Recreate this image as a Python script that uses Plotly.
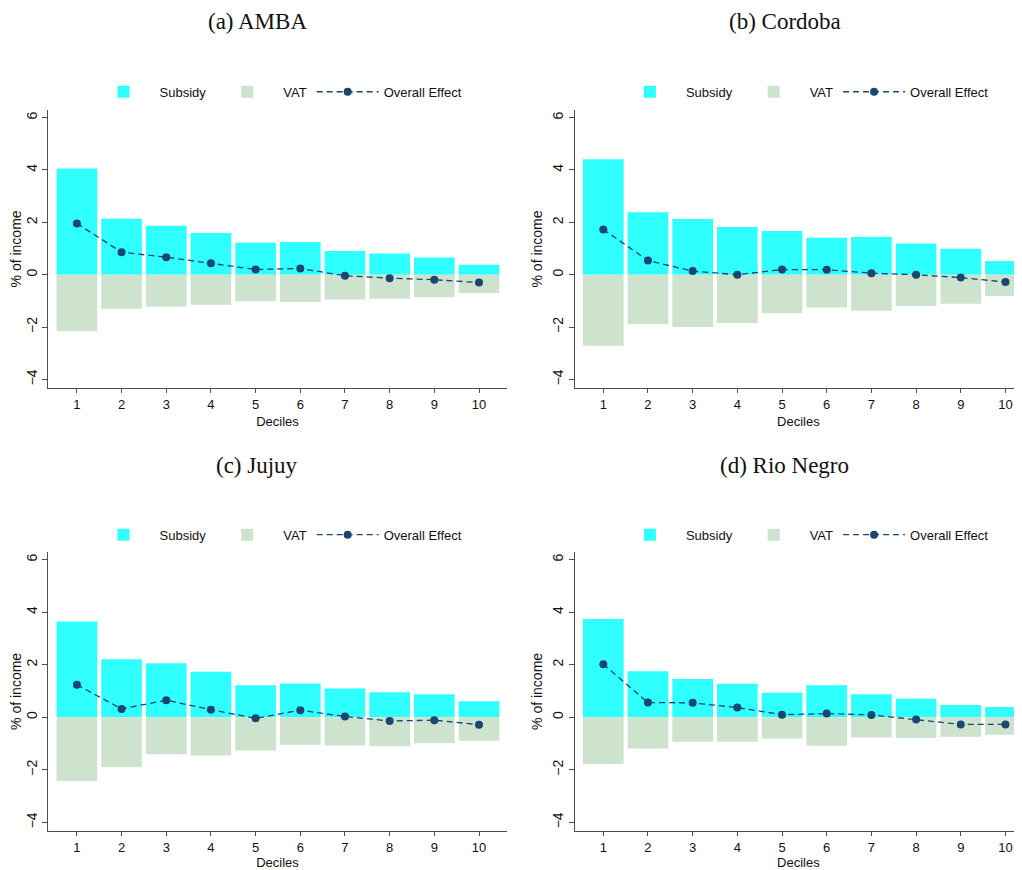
import plotly.graph_objects as go

deciles = [1, 2, 3, 4, 5, 6, 7, 8, 9, 10]
panel_titles = ["(a) AMBA", "(b) Cordoba", "(c) Jujuy", "(d) Rio Negro"]

subsidy_amba = [4.06, 2.14, 1.87, 1.59, 1.22, 1.25, 0.91, 0.81, 0.66, 0.38]
vat_amba = [-2.16, -1.30, -1.22, -1.15, -1.01, -1.04, -0.95, -0.92, -0.86, -0.70]
overall_amba = [1.96, 0.86, 0.67, 0.44, 0.20, 0.24, -0.04, -0.13, -0.19, -0.30]

subsidy_cordoba = [4.41, 2.39, 2.13, 1.82, 1.67, 1.41, 1.44, 1.19, 0.99, 0.52]
vat_cordoba = [-2.71, -1.89, -2.00, -1.84, -1.47, -1.25, -1.38, -1.19, -1.11, -0.81]
overall_cordoba = [1.73, 0.54, 0.14, 0.00, 0.20, 0.19, 0.06, 0.00, -0.11, -0.28]

subsidy_jujuy = [3.65, 2.21, 2.06, 1.73, 1.22, 1.29, 1.10, 0.95, 0.88, 0.61]
vat_jujuy = [-2.42, -1.90, -1.41, -1.45, -1.26, -1.04, -1.07, -1.10, -0.99, -0.89]
overall_jujuy = [1.24, 0.32, 0.65, 0.29, -0.04, 0.27, 0.03, -0.14, -0.11, -0.28]

subsidy_rionegro = [3.74, 1.75, 1.46, 1.28, 0.93, 1.22, 0.88, 0.71, 0.47, 0.39]
vat_rionegro = [-1.78, -1.19, -0.93, -0.93, -0.81, -1.08, -0.77, -0.79, -0.74, -0.66]
overall_rionegro = [2.02, 0.56, 0.55, 0.37, 0.10, 0.14, 0.09, -0.08, -0.27, -0.27]

y_ticks = [-4, -2, 0, 2, 4, 6]

panels = [
    (subsidy_amba, vat_amba, overall_amba),
    (subsidy_cordoba, vat_cordoba, overall_cordoba),
    (subsidy_jujuy, vat_jujuy, overall_jujuy),
    (subsidy_rionegro, vat_rionegro, overall_rionegro),
]

OFF = 8  # page body margin
W, H = 1022 - OFF, 870 - OFF
CYAN = "#30FFFF"
GREEN = "#CDE3CD"
NAVY = "#1A476F"
AXC = "#4D4D4D"
FONT = "Liberation Sans, Arial, sans-serif"

def px(x):
    return (x - OFF) / W

def py(y):
    return 1 - (y - OFF) / H

# plot-area geometry (window pixels): left, right, top, bottom, x-range, legend centre x, legend y
geoms = [
    (48.3, 506.7, 110, 389, [0.36, 10.62], 277.5, 92),
    (574.7, 1022, 110, 389, [0.36, 10.37], 803.9, 92),
    (48.3, 506.7, 553, 833, [0.36, 10.62], 277.5, 536),
    (574.7, 1022, 553, 833, [0.36, 10.37], 803.9, 536),
]
title_pos = [(257, 22), (784.5, 22), (257, 467), (784.5, 467)]

fig = go.Figure()
layout = dict(
    width=W, height=H,
    margin=dict(l=0, r=0, t=0, b=0),
    paper_bgcolor="white", plot_bgcolor="white",
    barmode="relative",
    font=dict(family=FONT, size=13, color="#111111"),
    annotations=[],
)

for i, (sub, vat, ovr) in enumerate(panels):
    n = "" if i == 0 else str(i + 1)
    xa, ya = "x" + n, "y" + n
    leg = "legend" + n
    fig.add_trace(go.Bar(x=deciles, y=sub, name="Subsidy", marker=dict(color=CYAN, line=dict(width=0)),
                         width=0.91, xaxis=xa, yaxis=ya, legend=leg))
    fig.add_trace(go.Bar(x=deciles, y=vat, name="VAT", marker=dict(color=GREEN, line=dict(width=0)),
                         width=0.91, xaxis=xa, yaxis=ya, legend=leg))
    fig.add_trace(go.Scatter(x=deciles, y=ovr, name="Overall Effect", mode="lines+markers",
                             line=dict(color=NAVY, width=1.3, dash="6px,4px"),
                             marker=dict(color=NAVY, size=8),
                             xaxis=xa, yaxis=ya, legend=leg))
    l, r, t, b, xr, cx, ly = geoms[i]
    layout["xaxis" + n] = dict(
        domain=[px(l), min(px(r), 1.0)], range=xr, anchor=ya,
        tickvals=deciles, ticks="outside", ticklen=4, tickcolor=AXC,
        showline=True, linecolor=AXC, linewidth=1.3, showgrid=False, zeroline=False,
        title=dict(text="Deciles", font=dict(size=13), standoff=6),
        tickfont=dict(size=13),
    )
    layout["yaxis" + n] = dict(
        domain=[py(b), py(t)], range=[-4.33, 6.3], anchor=xa,
        tickvals=y_ticks, ticks="outside", ticklen=5, tickcolor=AXC, tickangle=-90,
        showline=True, linecolor=AXC, linewidth=1.3, showgrid=False, zeroline=False,
        title=dict(text="% of income", font=dict(size=14), standoff=4),
        tickfont=dict(size=14),
    )
    layout[leg] = dict(
        orientation="h", x=px(cx), y=py(ly), xanchor="center", yanchor="middle",
        traceorder="normal", font=dict(size=13), bgcolor="rgba(0,0,0,0)",
        itemwidth=62,
    )
    tx, ty = title_pos[i]
    layout["annotations"].append(dict(
        text=panel_titles[i], x=px(tx), y=py(ty), xref="paper", yref="paper",
        xanchor="center", yanchor="middle", showarrow=False,
        font=dict(family="Liberation Serif, DejaVu Serif, serif", size=23, color="#111111"),
    ))

fig.update_layout(**layout)
fig.write_html("out.html")
